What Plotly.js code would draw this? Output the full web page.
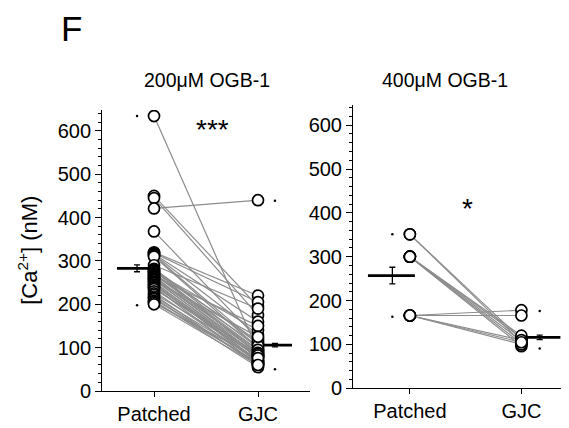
<!DOCTYPE html>
<html><head><meta charset="utf-8">
<script src="https://cdn.plot.ly/plotly-3.0.1.min.js"></script>
<style>html,body{margin:0;padding:0;background:#fff}#chart{width:569px;height:428px}</style>
</head><body><div id="chart"></div>
<script>
const categories = ['Patched', 'GJC'];
const panelTitles = ['200μM OGB-1', '400μM OGB-1'];
const sigLabels = ['***', '*'];

// 200 µM OGB-1 pairs
const leftPatched = [634,450,445,421,368,320,318,316,314,312,310,290,282,280,278,276,275,272,270,268,265,264,262,260,258,256,255,252,250,248,245,242,240,238,235,230,225,222,218,215,212,208,205,203,200];
const leftGJC     = [92,195,175,440,120,220,205,160,130,108,100,190,110,100,85,115,140,95,90,105,80,150,95,88,75,82,125,70,78,65,70,85,60,78,86,68,82,58,72,62,64,55,66,76,60];
const leftMean = [283, 106];
const leftSEM  = [8, 4];
const leftMin  = [198, 50];
const leftMax  = [634, 439];

// 400 µM OGB-1 pairs
const rightPatched = [351,351,300,300,300,300,300,166,166,166,166,166];
const rightGJC     = [112,105,115,108,102,120,96,178,166,110,100,105];
const rightMean = [257, 116];
const rightSEM  = [19, 5];
const rightMin  = [163, 91];
const rightMax  = [351, 176];

const FONT = 'Liberation Sans, Arial, sans-serif';

function panel(xa, ya, pat, gjc, mean, sem, mn, mx, spans, ebx) {
  const lx = [], ly = [];
  for (let i = 0; i < pat.length; i++) { lx.push(0, 1, null); ly.push(pat[i], gjc[i], null); }
  const traces = [];
  traces.push({x: lx, y: ly, xaxis: xa, yaxis: ya, mode: 'lines', line: {color: '#8c8c8c', width: 1.2}, hoverinfo: 'skip'});
  traces.push({x: [spans[0][0], spans[0][1], null, spans[1][0], spans[1][1]],
               y: [mean[0], mean[0], null, mean[1], mean[1]],
               xaxis: xa, yaxis: ya, mode: 'lines', line: {color: 'black', width: 2.8}});
  traces.push({x: pat.map(() => 0).concat(gjc.map(() => 1)), y: pat.concat(gjc), xaxis: xa, yaxis: ya,
               mode: 'markers', marker: {symbol: 'circle', size: 11, color: 'white', line: {color: 'black', width: 1.7}}});
  traces.push({x: ebx, y: mean, xaxis: xa, yaxis: ya, mode: 'markers', marker: {size: 1, color: 'rgba(0,0,0,0)'},
               error_y: {type: 'data', array: sem, visible: true, color: 'black', thickness: 1.3, width: 3}});
  traces.push({x: [ebx[0], ebx[0], ebx[1], ebx[1]], y: [mn[0], mx[0], mn[1], mx[1]], xaxis: xa, yaxis: ya,
               mode: 'markers', marker: {size: 2.5, color: 'black'}});
  return traces;
}

const data = [].concat(
  panel('x', 'y', leftPatched, leftGJC, leftMean, leftSEM, leftMin, leftMax, [[-0.356, 0], [1, 1.327]], [-0.163, 1.163]),
  panel('x2', 'y2', rightPatched, rightGJC, rightMean, rightSEM, rightMin, rightMax, [[-0.376, 0.045], [1.01, 1.35]], [-0.157, 1.164])
);

function xax(domain, range, anchor) {
  return {domain, range, anchor, tickvals: [0, 1], ticktext: categories, showline: true, linecolor: 'black', linewidth: 1,
          ticks: 'outside', ticklen: 5, tickcolor: 'black', tickfont: {size: 20, color: 'black', family: FONT},
          showgrid: false, zeroline: false, fixedrange: true};
}
function yax(domain, range, anchor) {
  return {domain, range, anchor, tick0: 0, dtick: 100, showline: true, linecolor: 'black', linewidth: 1,
          ticks: 'outside', ticklen: 6, tickcolor: 'black', tickfont: {size: 20, color: 'black', family: FONT},
          minor: {dtick: 20, ticks: 'outside', ticklen: 3, tickcolor: 'black', showgrid: false},
          showgrid: false, zeroline: false, fixedrange: true};
}

const layout = {
  width: 569, height: 428, margin: {l: 0, r: 0, t: 0, b: 0},
  paper_bgcolor: 'white', plot_bgcolor: 'white', showlegend: false,
  font: {family: FONT, color: 'black'},
  xaxis: xax([0.1793, 0.5448], [-0.5, 1.5], 'y'),
  yaxis: yax([0.0864, 0.743], [0, 648], 'x'),
  xaxis2: xax([0.6204, 0.9859], [-0.51, 1.355], 'y2'),
  yaxis2: yax([0.0928, 0.7547], [0, 646], 'x2'),
  annotations: [
    {text: 'F', xref: 'paper', yref: 'paper', x: 0.1265, y: 0.934, xanchor: 'center', yanchor: 'middle', showarrow: false, font: {size: 35}},
    {text: panelTitles[0], xref: 'paper', yref: 'paper', x: 0.364, y: 0.813, xanchor: 'center', yanchor: 'middle', showarrow: false, font: {size: 19.5}},
    {text: panelTitles[1], xref: 'paper', yref: 'paper', x: 0.782, y: 0.813, xanchor: 'center', yanchor: 'middle', showarrow: false, font: {size: 19.5}},
    {text: '[Ca<sup>2+</sup>] (nM)', xref: 'paper', yref: 'paper', x: 0.049, y: 0.416, xanchor: 'center', yanchor: 'middle', textangle: -90, showarrow: false, font: {size: 22}},
    {text: sigLabels[0], xref: 'x', yref: 'y', x: 0.56, y: 604, xanchor: 'center', yanchor: 'middle', showarrow: false, font: {size: 28}},
    {text: sigLabels[1], xref: 'x2', yref: 'y2', x: 0.52, y: 409, xanchor: 'center', yanchor: 'middle', showarrow: false, font: {size: 28}}
  ]
};

Plotly.newPlot('chart', data, layout, {staticPlot: true, displayModeBar: false});
</script>
</body></html>
